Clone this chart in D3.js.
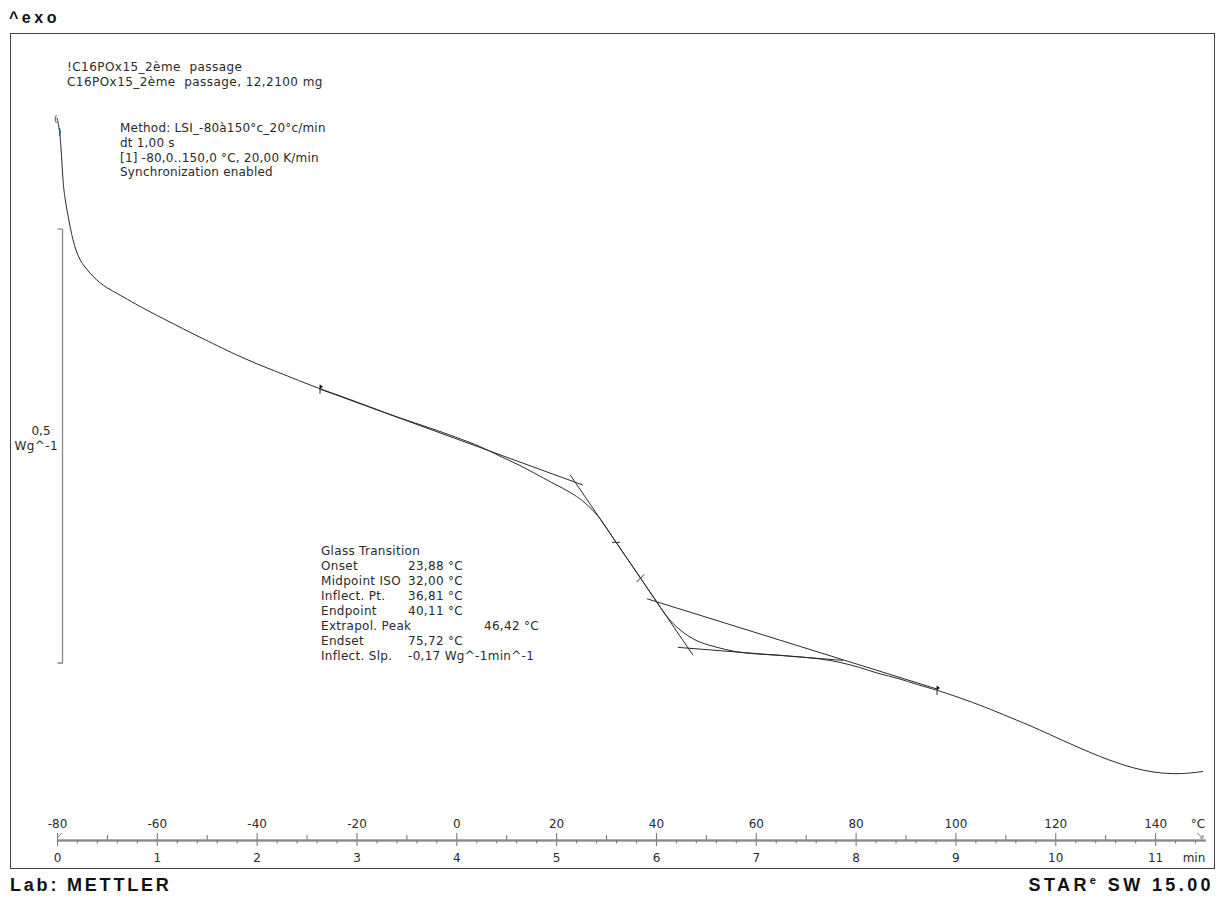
<!DOCTYPE html>
<html><head><meta charset="utf-8">
<script src="https://cdn.jsdelivr.net/npm/d3@7"></script>
<style>
body{margin:0;background:#fff}
text{font-family:"DejaVu Sans",sans-serif;fill:#2a2a2a}
</style>
</head><body>
<svg id="chart" width="1223" height="898"></svg>
<script>
// ---- data ----
// DSC curve: temperature (°C) and heat flow (W/g, exo up)
const temperature = [-80.00,-79.60,-79.20,-78.80,-78.40,-78.00,-77.40,-76.79,-76.19,-75.39,-74.39,-73.39,-72.19,-70.78,-68.98,-66.78,-63.37,-59.97,-56.36,-53.35,-49.35,-46.74,-43.34,-39.93,-36.32,-33.32,-27.31,-23.30,-17.29,-11.28,-5.27,-0.06,4.75,8.75,12.76,16.77,19.77,22.78,25.38,27.19,28.79,30.39,31.99,34.40,36.80,38.40,40.21,41.81,43.41,45.42,47.82,50.23,54.23,56.84,60.85,64.85,68.86,72.87,76.87,80.88,84.29,88.89,92.30,96.31,102.32,106.93,112.33,116.94,120.95,124.95,128.96,132.37,135.57,139.58,143.59,146.99,149.60];
const heatFlow = [0.128,0.119,0.097,0.053,0.035,0.022,0.003,-0.013,-0.025,-0.036,-0.044,-0.051,-0.058,-0.065,-0.071,-0.078,-0.0893,-0.0997,-0.1100,-0.1192,-0.1302,-0.1377,-0.1469,-0.1555,-0.1636,-0.1705,-0.1843,-0.192,-0.205,-0.218,-0.229,-0.240,-0.250,-0.262,-0.272,-0.285,-0.294,-0.303,-0.313,-0.323,-0.333,-0.347,-0.361,-0.381,-0.401,-0.415,-0.430,-0.444,-0.455,-0.465,-0.474,-0.479,-0.485,-0.488,-0.490,-0.491,-0.493,-0.495,-0.499,-0.505,-0.512,-0.518,-0.525,-0.531,-0.543,-0.553,-0.566,-0.577,-0.588,-0.598,-0.608,-0.615,-0.621,-0.626,-0.628,-0.627,-0.625];

// evaluation construction lines: [T1, v1, T2, v2]
const baselineBefore = [-27.51, -0.184, 25.38, -0.295];
const inflectionTangent = [22.78, -0.283, 47.42, -0.491];
const baselineAfter = [38.20, -0.426, 96.31, -0.530];
const peakTangent = [44.41, -0.482, 77.47, -0.497];
// evaluation limit flags [T, v]
const limitFlags = [[-27.31, -0.184], [96.31, -0.531]];
const midpointMark = [32.00, -0.361];
const inflectionMark = [36.81, -0.401];
const scaleBarValues = [0, -0.5];

// axis ticks
const tempTicks = [-80,-60,-40,-20,0,20,40,60,80,100,120,140];
const tempMinorTicks = [-70,-50,-30,-10,10,30,50,70,90,110,130];
const timeTicks = [0,1,2,3,4,5,6,7,8,9,10,11];
const timeMinorTicks = d3.range(0, 11.5, 0.2).filter(t => Math.abs(t - Math.round(t)) > 0.01);

// text blocks
const sampleLines = ["!C16POx15_2ème  passage", "C16POx15_2ème  passage, 12,2100 mg"];
const methodLines = ["Method: LSI_-80à150°c_20°c/min", "dt 1,00 s", "[1] -80,0..150,0 °C, 20,00 K/min", "Synchronization enabled"];
const resultLabels = ["Glass Transition","Onset","Midpoint ISO","Inflect. Pt.","Endpoint","Extrapol. Peak","Endset","Inflect. Slp."];
const resultValues = ["","23,88 °C","32,00 °C","36,81 °C","40,11 °C","46,42 °C","75,72 °C","-0,17 Wg^-1min^-1"];

// ---- drawing ----
const svg = d3.select("#chart");
const x = d3.scaleLinear().domain([-80, 150]).range([57, 1205]);
const xt = d3.scaleLinear().domain([0, 11.5]).range([57, 1205]);
const y = d3.scaleLinear().domain([-0.7362, 0.2247]).range([868, 34]);
const ink = "#2a2a2a";

svg.append("rect").attr("x",10.5).attr("y",33.5).attr("width",1204).attr("height",835)
  .attr("fill","none").attr("stroke","#444").attr("stroke-width",1);

// header texts
svg.append("text").attr("x",9).attr("y",23).text("^exo")
  .style("font-family","'Liberation Sans',Arial,sans-serif").style("font-weight","bold")
  .style("font-size","16px").style("letter-spacing","3.5px").style("fill","#111");

svg.selectAll("text.sample").data(sampleLines).join("text").attr("class","sample")
  .attr("x",67).attr("y",(d,i)=>70.5+i*15.5).text(d=>d)
  .style("font-size","12px").style("letter-spacing","0.45px").attr("xml:space","preserve");
svg.selectAll("text.method").data(methodLines).join("text").attr("class","method")
  .attr("x",120).attr("y",(d,i)=>132+i*14.8).text(d=>d)
  .style("font-size","12px").style("letter-spacing","0.2px");

// results block
const res = svg.append("g");
res.selectAll("text.lab").data(resultLabels).join("text").attr("class","lab")
  .attr("x",321).attr("y",(d,i)=>555+i*15).text(d=>d).style("font-size","12px").style("letter-spacing","0.3px");
res.selectAll("text.val").data(resultValues).join("text").attr("class","val")
  .attr("x",(d,i)=> i===5 ? 484 : 408).attr("y",(d,i)=>555+i*15).text(d=>d)
  .style("font-size","12px").style("letter-spacing","0.3px");

// scale bar
const sbX = 62.5;
svg.append("path")
  .attr("d", `M${sbX-5},${y(scaleBarValues[0])}H${sbX}V${y(scaleBarValues[1])}H${sbX-5}`)
  .attr("fill","none").attr("stroke","#888").attr("stroke-width",1.3);
svg.append("text").attr("x",41).attr("y",435).attr("text-anchor","middle").text("0,5").style("font-size","12px");
svg.append("text").attr("x",58).attr("y",450).attr("text-anchor","end").text("Wg^-1").style("font-size","12px").style("letter-spacing","0.4px");

// curve
const pts = temperature.map((t,i)=>[t, heatFlow[i]]);
const line = d3.line().x(d=>x(d[0])).y(d=>y(d[1])).curve(d3.curveBasis);
svg.append("path").attr("d", line(pts)).attr("fill","none").attr("stroke",ink).attr("stroke-width",1);

// construction lines
[baselineBefore, inflectionTangent, baselineAfter, peakTangent].forEach(s=>{
  svg.append("line").attr("x1",x(s[0])).attr("y1",y(s[1])).attr("x2",x(s[2])).attr("y2",y(s[3]))
    .attr("stroke",ink).attr("stroke-width",1);
});
// flags
limitFlags.forEach(f=>{
  const fx = x(f[0]), fy = y(f[1]);
  svg.append("line").attr("x1",fx).attr("x2",fx).attr("y1",fy-4).attr("y2",fy+5).attr("stroke",ink);
  svg.append("path").attr("d",`M${fx},${fy-4}l3,2l-3,2z`).attr("fill","#000");
});
// markers
svg.append("line").attr("x1",x(midpointMark[0])-4).attr("x2",x(midpointMark[0])+4)
  .attr("y1",y(midpointMark[1])).attr("y2",y(midpointMark[1])).attr("stroke",ink);
svg.append("line").attr("x1",x(inflectionMark[0])-3.5).attr("x2",x(inflectionMark[0])+4)
  .attr("y1",y(inflectionMark[1])+5).attr("y2",y(inflectionMark[1])-2.5).attr("stroke",ink);
// start brackets
svg.append("text").attr("x",x(temperature[0])-3).attr("y",y(heatFlow[0])+4).text("(").style("font-size","9px");
svg.append("text").attr("x",x(temperature[0])+1).attr("y",y(heatFlow[0])+17).text(")").style("font-size","9px");

// axes
const axisY = 840;
const gx = svg.append("g").attr("transform",`translate(0,${axisY})`);
gx.call(d3.axisTop(x).tickValues(tempTicks).tickSize(7).tickSizeOuter(0).tickPadding(5).tickFormat(d=>String(d)));
const gxm = svg.append("g").attr("transform",`translate(0,${axisY})`);
gxm.call(d3.axisTop(x).tickValues(tempMinorTicks).tickSize(5).tickSizeOuter(0).tickFormat(""));
const gt = svg.append("g").attr("transform",`translate(0,${axisY})`);
gt.call(d3.axisBottom(xt).tickValues(timeTicks).tickSize(6).tickSizeOuter(0).tickPadding(7).tickFormat(d=>String(d)));
const gtm = svg.append("g").attr("transform",`translate(0,${axisY})`);
gtm.call(d3.axisBottom(xt).tickValues(timeMinorTicks).tickSize(3.5).tickSizeOuter(0).tickFormat(""));
[gx,gxm,gt,gtm].forEach(g=>{
  g.selectAll("path.domain").attr("stroke","#8a8a8a").attr("stroke-width",1.4);
  g.selectAll(".tick line").attr("stroke","#7a7a7a").attr("stroke-width",1.1);
  g.selectAll(".tick text").style("font-family","'DejaVu Sans',sans-serif").style("font-size","12px").attr("fill","#2a2a2a");
});
// axis end marks
svg.append("line").attr("x1",x(-80)).attr("y1",axisY-2).attr("x2",x(-80)+5).attr("y2",axisY-7).attr("stroke","#7a7a7a");
svg.append("path").attr("d",`M${x(150)-8},${axisY-7}L${x(150)-2},${axisY-2}M${x(150)-5},${axisY-2}H${x(150)-2}V${axisY-5}`)
  .attr("fill","none").attr("stroke","#7a7a7a");
svg.append("text").attr("x",1198).attr("y",828).attr("text-anchor","middle").text("°C").style("font-size","12px");
svg.append("text").attr("x",1194).attr("y",862).attr("text-anchor","middle").text("min").style("font-size","12px");

// footer
svg.append("text").attr("x",10).attr("y",891).text("Lab: METTLER")
  .style("font-family","'Liberation Sans',Arial,sans-serif").style("font-weight","bold")
  .style("font-size","18px").style("letter-spacing","2.8px").style("fill","#111");
const star = svg.append("text").attr("x",1214).attr("y",891).attr("text-anchor","end")
  .style("font-family","'Liberation Sans',Arial,sans-serif").style("font-weight","bold")
  .style("font-size","18px").style("letter-spacing","3.4px").style("fill","#111");
star.append("tspan").text("STAR");
star.append("tspan").text("e").attr("dy",-7).style("font-size","11px");
star.append("tspan").text(" SW 15.00").attr("dy",7);
</script>
</body></html>
